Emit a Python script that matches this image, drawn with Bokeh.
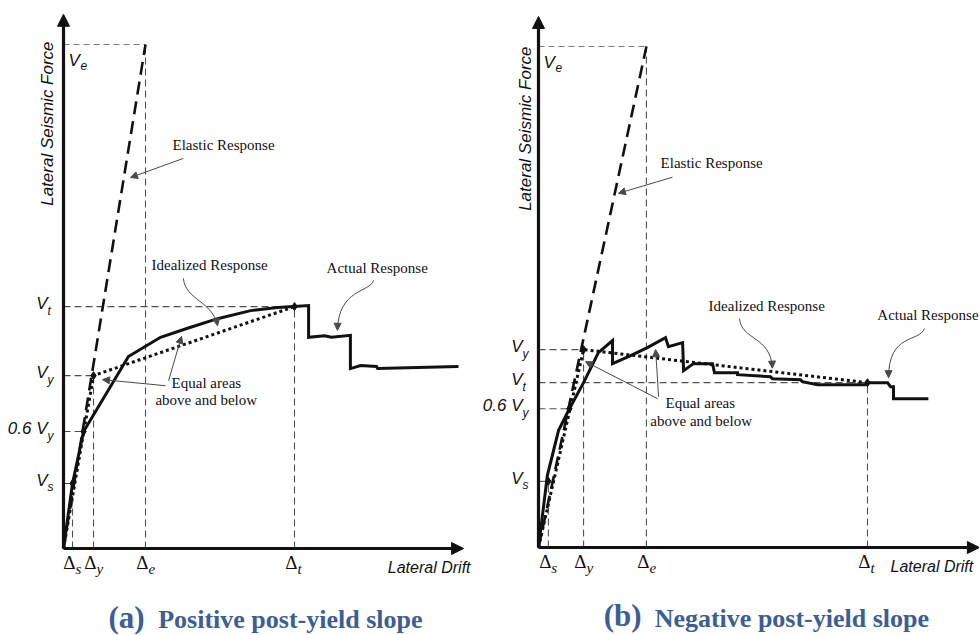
import math
from bokeh.plotting import figure
from bokeh.layouts import row
from bokeh.models import Range1d, Arrow, NormalHead
from bokeh.core.properties import value
from bokeh.embed import file_html
from bokeh.resources import INLINE

# ---------------- data: panel (a) positive post-yield slope ----------------
a_actual_drift = [0, 0.39, 0.87, 2.81, 4.20, 5.37, 6.67, 8.10, 9.26, 9.96, 10.61, 10.61,
                  11.30, 11.60, 12.42, 12.42, 12.86, 13.55, 13.60, 17.10]
a_actual_force = [0, 1.29, 2.32, 3.81, 4.19, 4.37, 4.56, 4.72, 4.78, 4.80, 4.82, 4.19,
                  4.22, 4.19, 4.23, 3.57, 3.63, 3.61, 3.57, 3.61]
a_ideal_drift = [0, 1.30, 10.0]
a_ideal_force = [0, 3.43, 4.80]
a_elastic_drift = [0, 3.55]
a_elastic_force = [0, 10.0]
a_key_drift = [0.39, 0.87, 1.30, 10.0]
a_key_force = [1.29, 2.32, 3.43, 4.80]
a_drift_ticks = [0.39, 1.30, 3.55, 10.0]
a_drift_subs = ["s", "y", "e", "t"]
a_force_ticks = [1.29, 2.32, 3.43, 4.80]
a_force_mains = ["V", "0.6 V", "V", "V"]
a_force_subs = ["s", "y", "y", "t"]
a_force_reach = [0.39, 0.87, 1.30, 10.0]
a_ve = 10.0

# ---------------- data: panel (b) negative post-yield slope ----------------
b_actual_drift = [0, 0.27, 0.61, 0.94, 1.37, 1.82, 2.25, 2.25, 2.80, 3.31, 3.86, 3.95,
                  4.38, 4.41, 4.71, 5.29, 5.35, 6.05, 6.05, 7.05, 7.11, 7.96, 8.02, 8.48,
                  9.94, 10.0, 10.61, 10.70, 10.79, 10.79, 11.85]
b_actual_force = [0, 1.44, 2.34, 2.77, 3.29, 3.89, 4.13, 3.67, 3.83, 3.99, 4.19, 4.01,
                  4.09, 3.53, 3.67, 3.67, 3.49, 3.49, 3.45, 3.41, 3.37, 3.35, 3.31, 3.25,
                  3.25, 3.29, 3.29, 3.21, 3.21, 2.97, 2.97]
b_ideal_drift = [0, 1.37, 10.0]
b_ideal_force = [0, 3.95, 3.29]
b_elastic_drift = [0, 3.28]
b_elastic_force = [0, 10.0]
b_key_drift = [0.30, 0.94, 1.37, 10.0]
b_key_force = [1.32, 2.77, 3.95, 3.29]
b_drift_ticks = [0.30, 1.37, 3.28, 10.0]
b_drift_subs = ["s", "y", "e", "t"]
b_force_ticks = [1.32, 2.77, 3.29, 3.95]
b_force_mains = ["V", "0.6 V", "V", "V"]
b_force_subs = ["s", "y", "t", "y"]
b_force_reach = [0.30, 0.94, 10.0, 1.37]
b_ve = 10.0

SERIF = "Liberation Serif"
SANS = "Liberation Sans"
INK = "#111111"
GUIDE = "#505050"
LIGHT_GUIDE = "#7a7a7a"
NOTE = "#4a4a4a"
CAPTION = "#3b5e95"
FIG_TOP = 0
FIG_H = 634


def txt(p, x, y, s, size, font=SERIF, style="normal", align="left",
        baseline="middle", xo=0, yo=0, angle=0.0, color=INK):
    xs = x if isinstance(x, list) else [x]
    ys = y if isinstance(y, list) else [y]
    ss = s if isinstance(s, list) else [s]
    p.text(x=xs, y=ys, text=ss, text_font=value(font),
           text_font_size=value(f"{size}px"), text_font_style=style,
           text_align=align, text_baseline=baseline, x_offset=xo, y_offset=yo,
           angle=angle, text_color=color)


def note_arrow(p, x0, y0, x1, y1):
    p.add_layout(Arrow(end=NormalHead(size=7, fill_color=NOTE, line_color=NOTE),
                       x_start=x0, y_start=y0, x_end=x1, y_end=y1,
                       line_color=NOTE, line_width=1))


def curved_arrow(p, s, c0, c1, e):
    p.bezier(x0=[s[0]], y0=[s[1]], x1=[e[0]], y1=[e[1]],
             cx0=[c0[0]], cy0=[c0[1]], cx1=[c1[0]], cy1=[c1[1]],
             line_color=NOTE, line_width=1)
    p.add_layout(Arrow(end=NormalHead(size=7, fill_color=NOTE, line_color=NOTE),
                       x_start=c1[0], y_start=c1[1], x_end=e[0], y_end=e[1],
                       line_alpha=0))


def panel(d, L):
    ox, oy = L["origin"]
    sx, sy = L["scale"]
    left = L["left"]
    w = L["width"]
    p = figure(width=w, height=FIG_H,
               x_range=Range1d((left - ox) / sx, (left + w - ox) / sx),
               y_range=Range1d((oy - (FIG_TOP + FIG_H)) / sy, (oy - FIG_TOP) / sy),
               output_backend="svg", toolbar_location=None,
               x_axis_location=None, y_axis_location=None, min_border=0,
               outline_line_color=None, background_fill_color="white",
               border_fill_color="white")
    p.grid.visible = False

    # guide lines (dashed)
    p.segment(x0=[0] * len(d["force_ticks"]), y0=d["force_ticks"],
              x1=d["force_reach"], y1=d["force_ticks"],
              line_color=GUIDE, line_width=1.1, line_dash="7 4")
    p.segment(x0=[0], y0=[d["ve"]], x1=[d["elastic_drift"][-1]], y1=[d["ve"]],
              line_color=LIGHT_GUIDE, line_width=1.1, line_dash="6 4")
    vlev = [d["force_ticks"][0], d["ideal_force"][1], d["ve"], d["ideal_force"][2]]
    p.segment(x0=d["drift_ticks"], y0=[0] * 4, x1=d["drift_ticks"], y1=vlev,
              line_color=GUIDE, line_width=1.1, line_dash="7 4")

    # elastic response
    p.line(d["elastic_drift"], d["elastic_force"], line_color=INK, line_width=2.6,
           line_dash="13 7")
    # idealized response
    p.line(d["ideal_drift"], d["ideal_force"], line_color=INK, line_width=3,
           line_dash="3 3")
    # actual response
    p.line(d["actual_drift"], d["actual_force"], line_color=INK, line_width=3,
           line_join="miter")
    p.scatter(d["key_drift"], d["key_force"], marker="diamond", size=8, color=INK)

    # axes with arrow heads
    p.add_layout(Arrow(end=NormalHead(size=12, fill_color=INK, line_color=INK),
                       x_start=0, y_start=0, x_end=0, y_end=L["y_top"],
                       line_width=3.2, line_color=INK))
    p.add_layout(Arrow(end=NormalHead(size=12, fill_color=INK, line_color=INK),
                       x_start=0, y_start=0, x_end=L["x_end"], y_end=0,
                       line_width=3.2, line_color=INK))

    # force tick labels
    n = len(d["force_ticks"])
    txt(p, [0] * n, d["force_ticks"], d["force_mains"], 17, font=SANS,
        style="italic", align="right", xo=-16, yo=-3)
    txt(p, [0] * n, d["force_ticks"], d["force_subs"], 12, font=SANS,
        style="italic", align="left", xo=-16, yo=4)
    txt(p, 0, d["ve"], "V", 17, font=SANS, style="italic", xo=5, yo=16)
    txt(p, 0, d["ve"], "e", 12, font=SANS, style="italic", xo=17, yo=21)

    # drift tick labels
    m = len(d["drift_ticks"])
    txt(p, d["drift_ticks"], [0] * m, ["\u0394"] * m, 19, align="right", xo=3, yo=14)
    txt(p, d["drift_ticks"], [0] * m, d["drift_subs"], 15, style="italic",
        align="left", xo=3, yo=20)

    # axis titles
    txt(p, 0, L["title_y"], "Lateral Seismic Force", 17, font=SANS, style="italic",
        align="center", xo=L["title_xo"], angle=math.pi / 2)
    txt(p, L["drift_title_x"], 0, "Lateral Drift", 16, font=SANS, style="italic",
        align=L["drift_title_align"], yo=19)

    # annotations
    txt(p, *L["elastic_lbl"], "Elastic Response", 15)
    note_arrow(p, *L["elastic_arr"])
    txt(p, *L["ideal_lbl"], "Idealized Response", 15)
    curved_arrow(p, *L["ideal_curve"])
    txt(p, *L["actual_lbl"], "Actual Response", 15)
    curved_arrow(p, *L["actual_curve"])
    txt(p, *L["eq1_lbl"], "Equal areas", 15)
    txt(p, *L["eq2_lbl"], "above and below", 15)
    note_arrow(p, *L["eq_arr1"])
    note_arrow(p, *L["eq_arr2"])

    # caption
    txt(p, *L["cap_tag"], L["tag"], 31, style="bold", color=CAPTION)
    txt(p, *L["cap_txt"], L["caption"], 26, style="bold", color=CAPTION)
    return p


A_DATA = dict(actual_drift=a_actual_drift, actual_force=a_actual_force,
              ideal_drift=a_ideal_drift, ideal_force=a_ideal_force,
              elastic_drift=a_elastic_drift, elastic_force=a_elastic_force,
              key_drift=a_key_drift, key_force=a_key_force,
              drift_ticks=a_drift_ticks, drift_subs=a_drift_subs,
              force_ticks=a_force_ticks, force_mains=a_force_mains,
              force_subs=a_force_subs, force_reach=a_force_reach, ve=a_ve)
B_DATA = dict(actual_drift=b_actual_drift, actual_force=b_actual_force,
              ideal_drift=b_ideal_drift, ideal_force=b_ideal_force,
              elastic_drift=b_elastic_drift, elastic_force=b_elastic_force,
              key_drift=b_key_drift, key_force=b_key_force,
              drift_ticks=b_drift_ticks, drift_subs=b_drift_subs,
              force_ticks=b_force_ticks, force_mains=b_force_mains,
              force_subs=b_force_subs, force_reach=b_force_reach, ve=b_ve)

A_LAYOUT = dict(left=0, width=474, origin=(63, 548), scale=(23.1, 50.4),
                y_top=10.6, x_end=17.32, title_y=8.43, title_xo=-16,
                drift_title_x=17.62, drift_title_align="right",
                elastic_lbl=(4.72, 8.00), elastic_arr=(5.19, 7.74, 2.90, 7.36),
                ideal_lbl=(3.81, 5.62),
                ideal_curve=((5.19, 5.36), (5.28, 4.92), (6.45, 4.92), (6.67, 4.42)),
                actual_lbl=(11.39, 5.56),
                actual_curve=((13.42, 5.32), (13.29, 5.08), (11.90, 5.16), (11.86, 4.33)),
                eq1_lbl=(4.68, 3.29), eq2_lbl=(3.98, 2.94),
                eq_arr1=(4.42, 3.23, 1.69, 3.35), eq_arr2=(4.55, 3.33, 5.11, 4.21),
                cap_tag=(1.95, -1.37), cap_txt=(4.10, -1.40),
                tag="(a)", caption="Positive post-yield slope")
B_LAYOUT = dict(left=474, width=505, origin=(538, 547), scale=(32.9, 50.1),
                y_top=10.6, x_end=13.4, title_y=8.36, title_xo=-13,
                drift_title_x=10.70, drift_title_align="left",
                elastic_lbl=(3.71, 7.68), elastic_arr=(4.07, 7.39, 2.43, 7.07),
                ideal_lbl=(5.17, 4.83),
                ideal_curve=((6.11, 4.57), (6.17, 4.13), (7.05, 4.23), (7.11, 3.58)),
                actual_lbl=(10.30, 4.65),
                actual_curve=((11.73, 4.37), (11.58, 4.09), (10.64, 4.29), (10.64, 3.39)),
                eq1_lbl=(3.86, 2.89), eq2_lbl=(3.40, 2.53),
                eq_arr1=(3.62, 2.97, 1.43, 3.71), eq_arr2=(3.65, 3.01, 3.56, 3.95),
                cap_tag=(1.98, -1.36), cap_txt=(3.53, -1.42),
                tag="(b)", caption="Negative post-yield slope")

pa = panel(A_DATA, A_LAYOUT)
pb = panel(B_DATA, B_LAYOUT)
layout = row(pa, pb, spacing=0)

with open("out.html", "w") as f:
    f.write(file_html(layout, INLINE))
